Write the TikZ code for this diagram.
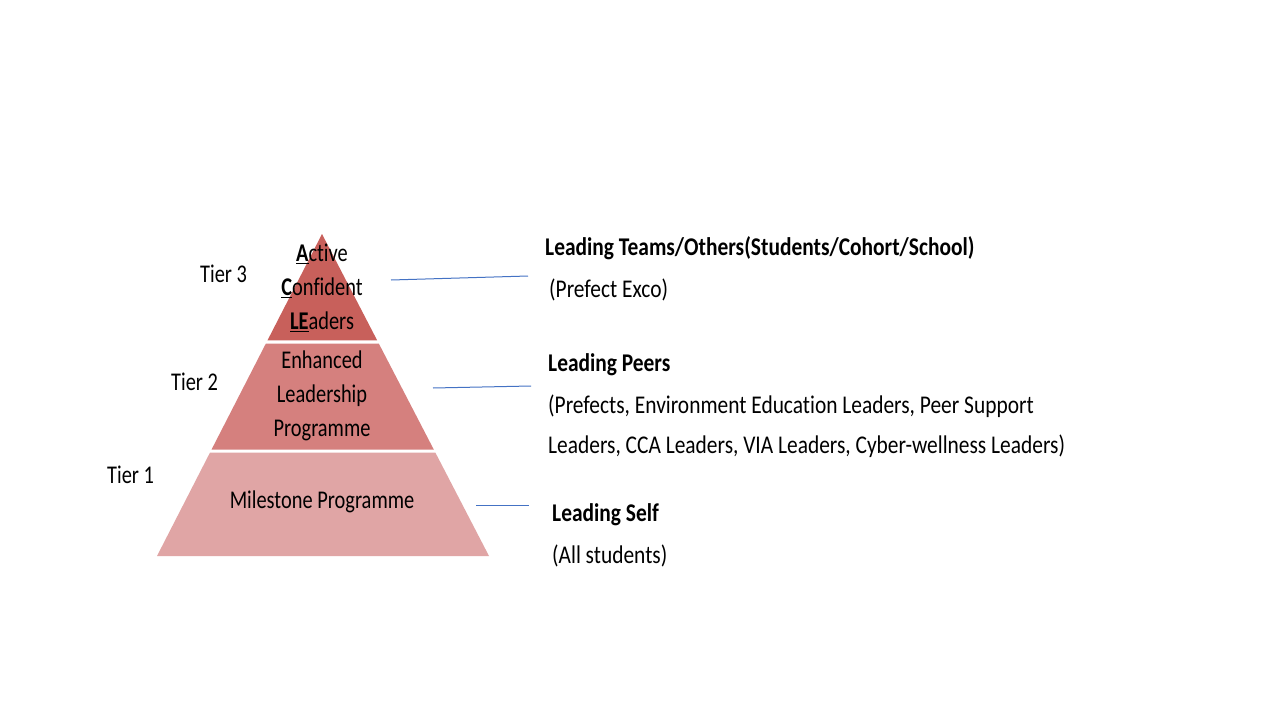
\documentclass[tikz,border=0pt]{standalone}
\usepackage{fontspec}
\setmainfont{Carlito}[FakeStretch=0.80,Ligatures=NoCommon]
\newfontfamily\sidefont{Carlito}[FakeStretch=0.84,Ligatures=NoCommon]
\usetikzlibrary{calc}
\definecolor{tierA}{HTML}{C8605B}
\definecolor{tierB}{HTML}{D5807E}
\definecolor{tierC}{HTML}{E0A5A5}
\definecolor{linkblue}{HTML}{4472C4}
\newcommand{\initial}[1]{\textbf{\underline{#1}}}
\begin{document}
\begin{tikzpicture}[x=1pt,y=-1pt,
  txt/.style={inner sep=0pt,font=\fontsize{25.5}{34}\selectfont},
  side/.style={inner sep=0pt,anchor=base west,font=\sidefont\fontsize{25.5}{34}\selectfont},
  ptxt/.style={txt,align=center,anchor=center},
  link/.style={draw=linkblue,line width=1pt}]
\useasboundingbox[fill=white] (0,0) rectangle (1280,720);

% pyramid outline points
\coordinate (apex) at (322,234);
\coordinate (bl) at (157,556);
\coordinate (br) at (489,556);

% tier bands (fractions along the sides, small white gaps between)
\fill[tierA] (apex) -- ($(apex)!0.3307!(bl)$) -- ($(apex)!0.3307!(br)$) -- cycle;
\fill[tierB] ($(apex)!0.3401!(bl)$) -- ($(apex)!0.6693!(bl)$) -- ($(apex)!0.6693!(br)$) -- ($(apex)!0.3401!(br)$) -- cycle;
\fill[tierC] ($(apex)!0.6786!(bl)$) -- (bl) -- (br) -- ($(apex)!0.6786!(br)$) -- cycle;

% texts inside the pyramid
\node[ptxt] (t3) at (322,288) {\initial{A}ctive\\\initial{C}onfident\\\initial{LE}aders};
\node[ptxt] (t2) at (322,396) {Enhanced\\Leadership\\Programme};
\node[ptxt] (t1) at (322,502) {Milestone Programme};

% tier labels
\node[txt,anchor=base west] (l3) at (200,282) {Tier 3};
\node[txt,anchor=base west] (l2) at (171,390) {Tier 2};
\node[txt,anchor=base west] (l1) at (107,483) {Tier 1};

% descriptions
\node[side] (d3) at (545,255) {\bfseries Leading Teams/Others(Students/Cohort/School)};
\node[side] (d3b) at (549,297) {(Prefect Exco)};
\node[side] (d2) at (548,371) {\bfseries Leading Peers};
\node[side] (d2b) at (548,413) {(Prefects, Environment Education Leaders, Peer Support};
\node[side] (d2c) at (548,453) {Leaders, CCA Leaders, VIA Leaders, Cyber-wellness Leaders)};
\node[side] (d1) at (552,521) {\bfseries Leading Self};
\node[side] (d1b) at (552,563) {(All students)};

% connector lines
\coordinate (c3a) at (391,280);
\coordinate (c3b) at (528,276);
\coordinate (c2a) at (433,388);
\coordinate (c2b) at (531,386);
\coordinate (c1a) at (476,505);
\coordinate (c1b) at (529,505);
\draw[link] (c3a) -- (c3b);
\draw[link] (c2a) -- (c2b);
\draw[link] (c1a) -- (c1b);
\end{tikzpicture}
\end{document}
